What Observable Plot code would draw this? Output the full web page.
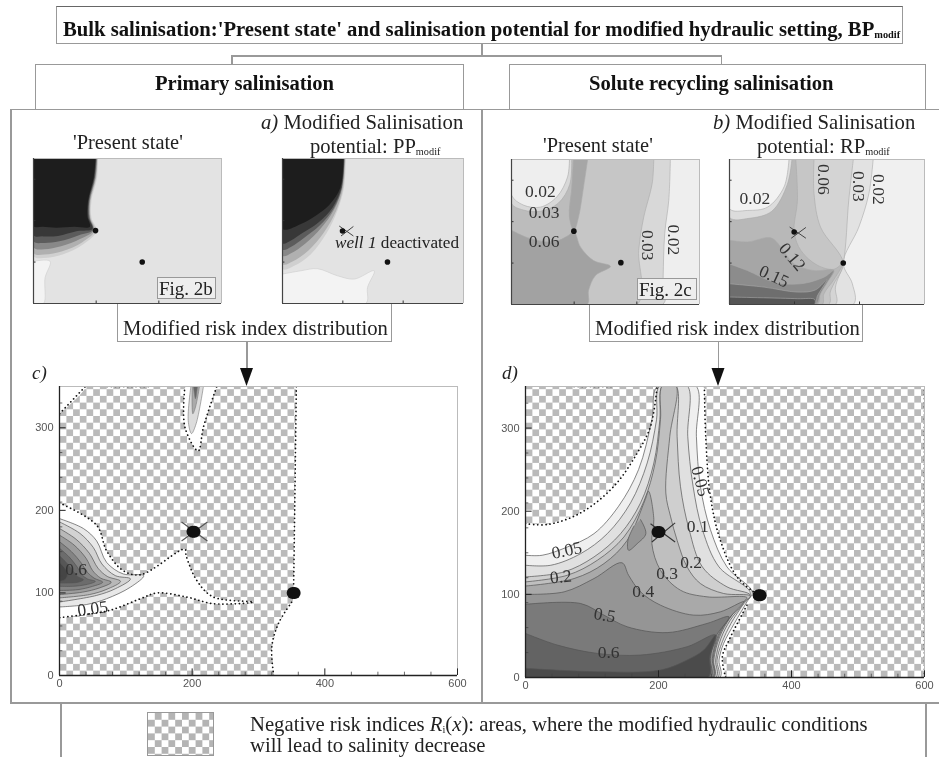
<!DOCTYPE html>
<html><head><meta charset="utf-8">
<script src="https://cdn.jsdelivr.net/npm/d3@7"></script>
<script src="https://cdn.jsdelivr.net/npm/@observablehq/plot@0.6"></script>
<style>
html,body{margin:0;padding:0;background:#fff;overflow:hidden}
#page{position:relative;width:939px;height:757px;overflow:hidden;font-family:"Liberation Serif",serif;color:#222;filter:blur(.45px)}
.b{position:absolute;box-sizing:border-box;border:1.5px solid #999}
.l{position:absolute;background:#999}
.t{position:absolute;white-space:nowrap;line-height:1}
.p{position:absolute}
sub{font-size:.5em;vertical-align:baseline;position:relative;top:.15em}
</style></head><body>
<svg width="0" height="0" style="position:absolute"><defs>
<pattern id="chk" width="13.4" height="13.4" patternUnits="userSpaceOnUse">
<rect width="13.4" height="13.4" fill="#fff"/><rect width="6.7" height="6.7" fill="#bababa"/><rect x="6.7" y="6.7" width="6.7" height="6.7" fill="#bababa"/>
</pattern></defs></svg>
<div id="page">
<div class="b" style="left:56px;top:6px;width:847px;height:38px;border-top-color:#666"></div>
<div class="t" style="left:63px;top:19px;font-size:20.7px;font-weight:bold;color:#111">Bulk salinisation:'Present state' and salinisation potential for modified hydraulic setting, BP<sub>modif</sub></div>
<div class="l" style="left:481px;top:44px;width:1.5px;height:11px"></div>
<div class="l" style="left:231px;top:55px;width:491px;height:1.5px"></div>
<div class="l" style="left:231px;top:55px;width:1.5px;height:9px"></div>
<div class="l" style="left:720.5px;top:55px;width:1.5px;height:9px"></div>
<div class="b" style="left:35px;top:64px;width:429px;height:46px"></div>
<div class="b" style="left:509px;top:64px;width:417px;height:46px"></div>
<div class="t" style="left:155px;top:73px;font-size:20.6px;font-weight:bold;color:#111">Primary salinisation</div>
<div class="t" style="left:589px;top:73px;font-size:20.6px;font-weight:bold;color:#111">Solute recycling salinisation</div>
<div class="l" style="left:10px;top:108.5px;width:929px;height:1.5px"></div>
<div class="l" style="left:10px;top:108.5px;width:1.5px;height:594px"></div>
<div class="l" style="left:481px;top:108.5px;width:1.5px;height:594px"></div>
<div class="l" style="left:10px;top:702px;width:929px;height:1.5px"></div>
<div class="l" style="left:60px;top:703px;width:1.5px;height:54px"></div>
<div class="l" style="left:925px;top:703px;width:1.5px;height:54px"></div>
<div class="b" style="left:117px;top:302px;width:275px;height:40px;border-top:none"></div>
<div class="b" style="left:589px;top:304px;width:274px;height:38px;border-top:none"></div>
<div class="l" style="left:246px;top:342px;width:1.5px;height:28px"></div>
<div class="l" style="left:717.5px;top:342px;width:1.5px;height:28px"></div>
<div class="p" id="pc" style="left:19px;top:382px"></div>
<div class="p" id="pd" style="left:485px;top:382px"></div>
<div class="p" id="p1" style="left:31px;top:156px"></div>
<div class="p" id="p2" style="left:280px;top:156px"></div>
<div class="p" id="p3" style="left:509px;top:157px"></div>
<div class="p" id="p4" style="left:727px;top:157px"></div>
<svg class="p" style="left:0;top:0" width="939" height="757"><path d="M240,368h13l-6.500,18z" fill="#111"/><path d="M711.500,368h13l-6.500,18z" fill="#111"/></svg>
<div class="t" style="left:73px;top:132px;font-size:20.4px">'Present state'</div>
<div class="t" style="left:543px;top:135px;font-size:20.4px">'Present state'</div>
<div class="t" style="left:261px;top:112px;font-size:20.7px"><i>a)</i> Modified Salinisation</div>
<div class="t" style="left:310px;top:136px;font-size:20.6px">potential: PP<sub>modif</sub></div>
<div class="t" style="left:713px;top:112px;font-size:20.7px"><i>b)</i> Modified Salinisation</div>
<div class="t" style="left:757px;top:136px;font-size:20.6px">potential: RP<sub>modif</sub></div>
<div class="t" style="left:335px;top:234px;font-size:17.2px"><i>well 1</i> deactivated</div>
<div class="b" style="left:157px;top:277px;width:59px;height:22px;background:#eee;border-width:1px"></div>
<div class="b" style="left:637px;top:278px;width:60px;height:22px;background:#eee;border-width:1px"></div>
<div class="t" style="left:159px;top:279px;font-size:19px">Fig. 2b</div>
<div class="t" style="left:639px;top:280px;font-size:19px">Fig. 2c</div>
<div class="t" style="left:123px;top:318px;font-size:20.7px">Modified risk index distribution</div>
<div class="t" style="left:595px;top:318px;font-size:20.7px">Modified risk index distribution</div>
<div class="t" style="left:32px;top:363px;font-size:19px"><i>c)</i></div>
<div class="t" style="left:502px;top:363px;font-size:19px"><i>d)</i></div>
<div class="b" style="left:147px;top:712px;width:67px;height:44px;border:1px solid #999;background:repeating-conic-gradient(#b4b4b4 0 25%,#fff 0 50%) 0 0/13.6px 13.6px"></div>
<div class="t" style="left:250px;top:714px;font-size:20.7px">Negative risk indices <i>R</i><sub>i</sub>(<i>x</i>): areas, where the modified hydraulic conditions</div>
<div class="t" style="left:250px;top:735px;font-size:20.7px">will lead to salinity decrease</div>
</div>
<script>
// ---- panel c: modified risk index, primary salinisation (x, y in model units)
const cChecker=[[0,0],[323,0],[320,34],[330,63],[352,91],[353,111],[354,168],[357,350],[0,350]];
const cHoleCorner=[[0,317],[39,350],[0,350]];
const cHoleNotch=[[189,350],[189,301],[209,272],[217,301],[237,350]];
const cHoleWedge=[[0,209],[56,182],[71,151],[96,127],[122,122],[189,153],[191,145],[207,115],[232,95],[292,89],[232,87],[192,95],[147,100],[122,93],[76,79],[30,73],[0,70]];
const cTopDots=[[72,350],[134,350]];
const cWellEdge=[[353,111],[354,168],[357,350]];
const cWellEdgeLow=[[323,0],[320,34],[330,63],[352,91]];
const cLobe=[
[[0,190],[36,178],[56,163],[71,137],[96,123],[127,121],[107,107],[71,93],[41,86],[0,83]],
[[0,186],[31,172],[51,155],[64,135],[84,121],[107,117],[84,105],[56,97],[0,89]],
[[0,178],[25,165],[45,148],[58,130],[72,120],[92,114],[70,104],[45,98],[0,94]],
[[0,170],[22,158],[40,142],[50,127],[62,118],[78,113],[60,106],[35,101],[0,98]],
[[0,162],[18,150],[33,136],[42,125],[52,118],[65,113],[50,108],[28,104],[0,103]],
[[0,154],[14,144],[27,131],[34,122],[42,117],[54,114],[40,110],[20,108],[0,108]],
[[0,145],[10,137],[20,127],[27,120],[36,116],[28,113],[12,112],[0,112]],
[[0,137],[8,130],[12,122],[8,116],[0,114]]];
const cLobeFill=["#e8e8e8","#d2d2d2","#b8b8b8","#9c9c9c","#848484","#6c6c6c","#565656","#454545"];
const cNotch=[
[[198,350],[194,309],[199,293],[206,305],[217,350]],
[[200,350],[201,317],[205,325],[211,350]],
[[202,350],[205,335],[208,350]]];
const cNotchFill=["#dcdcdc","#aaaaaa","#666666"];
const cWells=[[200.500,174],[203.500,174],[351.500,100],[354.500,100]];
const cCross=[{x1:184,y1:186,x2:223,y2:163},{x1:223,y1:186,x2:184,y2:163}];
const cLabels=[{t:"0.6",x:25,y:128,r:0},{t:"0.05",x:50,y:81,r:-8}];
// ---- panel d: modified risk index, solute recycling
const dCheckerLeft=[[0,185],[33,184],[83,198],[133,230],[168,270],[188,302],[198,350],[0,350]];
const dCheckerRight=[[269,350],[271,290],[278,218],[293,165],[318,121],[343,103],[352,99],[333,87],[306,45],[296,25],[301,0],[600,0],[600,350]];
const dBoundLeft=[[0,185],[33,184],[83,198],[133,230],[168,270],[188,302],[198,350]];
const dBoundRight=[[269,350],[271,290],[278,218],[293,165],[318,121],[343,103]];
const dBoundLow=[[333,87],[306,45],[296,25],[301,0]];
const dTopDots=[[73,350],[133,350]];
const dEdgeDots=[[600,0],[600,350]];
const dBands=[
[[0,147],[25,147],[63,157],[103,173],[140,206],[170,250],[190,310],[199,351],[256,351],[257,290],[263,230],[278,178],[303,133],[341,103],[333,91],[314,65],[298,41],[291,21],[292,0],[0,0]],
[[0,135],[38,135],[83,149],[123,173],[158,210],[183,258],[197,310],[202,351],[243,351],[244,290],[252,230],[266,178],[291,133],[338,102],[328,89],[309,65],[296,43],[288,21],[289,0],[0,0]],
[[0,121],[58,127],[103,145],[143,173],[173,210],[193,258],[202,310],[206,351],[226,351],[228,290],[233,230],[246,178],[266,133],[303,109],[338,99],[326,87],[308,69],[294,47],[286,21],[286,0],[0,0]],
[[0,115],[63,123],[108,141],[148,169],[178,212],[195,258],[203,310],[206,351],[226,351],[217,290],[211,222],[218,194],[228,165],[243,133],[263,113],[298,101],[338,98],[324,88],[307,71],[292,49],[283,21],[283,0],[0,0]],
[[0,110],[73,119],[118,137],[153,165],[180,214],[185,224],[193,190],[190,161],[203,129],[233,105],[273,97],[333,96],[323,88],[306,71],[291,50],[282,22],[282,0],[0,0]],
[[0,100],[58,103],[103,119],[145,138],[155,123],[173,103],[203,87],[253,75],[293,79],[328,91],[306,71],[290,51],[281,23],[281,0],[0,0]],
[[0,88],[83,89],[118,75],[153,61],[213,54],[273,65],[306,73],[286,49],[278,23],[278,0],[0,0]],
[[0,53],[48,39],[108,29],[173,27],[243,37],[286,51],[277,25],[275,0],[0,0]],
[[0,11],[108,7],[203,9],[243,21],[268,33],[286,51],[277,25],[274,0],[0,0]]];
const dBandFill=["#efefef","#e0e0e0","#cfcfcf","#bfbfbf","#a9a9a9","#959595","#7a7a7a","#636363","#4b4b4b"];
const dBlob=[[173,190],[181,173],[168,161],[155,153],[154,165],[163,182]];
const dWells=[[198.500,175],[201.500,175],[350.500,99],[353.500,99]];
const dCross=[{x1:188,y1:185,x2:225,y2:163},{x1:225,y1:186,x2:190,y2:163}];
const dLabels=[{t:"0.05",x:62,y:153,r:-12},{t:"0.2",x:53,y:121,r:-6},{t:"0.05",x:263,y:236,r:75},{t:"0.1",x:259,y:182,r:0},{t:"0.2",x:249,y:139,r:0},{t:"0.3",x:213,y:125,r:0},{t:"0.4",x:177,y:103,r:0},{t:"0.5",x:119,y:75,r:10},{t:"0.6",x:125,y:30,r:0}];
// ---- panel 'Present state' primary
const p1Layers=[
[[206,350],[203,304],[185,248],[185,207],[201,175],[159,143],[95,119],[32,110],[0,114],[0,350]],
[[204,350],[200,304],[182,248],[182,207],[196,176],[156,148],[92,126],[35,118],[0,122],[0,350]],
[[203,350],[198,304],[180,248],[180,207],[192,177],[150,156],[88,138],[35,131],[0,135],[0,350]],
[[201,350],[196,304],[178,248],[178,208],[190,178],[145,165],[82,150],[32,146],[0,150],[0,350]],
[[199,350],[194,304],[176,248],[175,208],[188,180],[140,175],[78,163],[30,162],[0,165],[0,350]],
[[198,350],[192,304],[174,248],[172,210],[180,185],[130,185],[72,183],[30,185],[0,187],[0,350]]];
const darkFill=["#d0d0d0","#b0b0b0","#888888","#5c5c5c","#383838","#1d1d1d"];
const p1Pale=[[0,102],[53,102],[37,62],[32,0],[0,0]];
const p1Wells=[[198,176],[347,100]];
// ---- panel PP modif
const p2Layers=[
[[210,350],[204,280],[182,224],[144,167],[94,119],[39,91],[0,83],[0,350]],
[[208,350],[201,280],[178,224],[136,170],[86,128],[35,102],[0,95],[0,350]],
[[206,350],[198,280],[172,228],[128,182],[76,145],[30,122],[0,115],[0,350]],
[[205,350],[197,280],[170,230],[123,188],[71,158],[29,137],[0,130],[0,350]],
[[204,350],[195,280],[166,232],[118,195],[66,170],[28,152],[0,145],[0,350]],
[[202,350],[192,280],[155,238],[110,212],[61,192],[0,180],[0,350]]];
const p2Pale=[[0,71],[61,79],[116,84],[182,67],[238,59],[304,79],[282,39],[276,0],[0,0]];
const p2Wells=[[199,175],[348,100]];
const p2Cross=[{x1:188,y1:187,x2:235,y2:163},{x1:235,y1:186,x2:194,y2:163}];
// ---- panel 'Present state' recycling
const p3Layers=[
[[507,350],[502,252],[489,171],[484,66],[483,0],[0,0],[0,350]],
[[454,350],[449,292],[422,211],[406,131],[401,0],[0,0],[0,350]],
[[198,350],[193,284],[185,211],[199,177],[134,151],[60,159],[0,179],[0,350]],
[[192,350],[186,290],[150,245],[92,225],[38,228],[0,244],[0,350]],
[[185,350],[179,308],[145,260],[92,235],[38,240],[0,264],[0,350]],
[[243,350],[230,284],[214,211],[199,177],[185,211],[193,284],[198,350]],
[[0,179],[60,159],[134,151],[182,167],[199,177],[220,139],[262,106],[316,92],[268,70],[246,34],[241,0],[0,0]]];
const p3Fill=["#d8d8d8","#c6c6c6","#bcbcbc","#d8d8d8","#eeeeee","#a6a6a6","#a2a2a2"];
const p3Wells=[[199,177],[349,101]];
const p3Labels=[{t:"0.02",x:92,y:274,r:0},{t:"0.03",x:104,y:222,r:0},{t:"0.06",x:104,y:153,r:0},{t:"0.03",x:433,y:143,r:90},{t:"0.02",x:516,y:156,r:90}];
// ---- panel RP modif
const p4Layers=[
[[442,350],[429,268],[398,187],[350,100],[378,50],[381,0],[0,0],[0,350]],
[[381,350],[367,252],[350,100],[326,42],[326,0],[0,0],[0,350]],
[[260,350],[260,268],[280,187],[350,100],[321,50],[310,30],[305,0],[0,0],[0,350]],
[[204,350],[209,252],[199,175],[220,130],[270,95],[321,85],[350,100],[321,60],[290,25],[285,0],[0,0],[0,350]],
[[192,350],[178,290],[130,225],[60,208],[0,210],[0,350]],
[[183,350],[168,284],[117,235],[55,227],[0,231],[0,350]],
[[0,155],[55,151],[127,161],[158,139],[199,98],[260,82],[321,82],[280,34],[270,0],[0,0]],
[[0,98],[55,82],[137,54],[219,50],[291,66],[321,82],[280,26],[265,0],[0,0]],
[[0,50],[106,42],[209,30],[264,35],[300,60],[270,20],[262,0],[0,0]],
[[0,18],[209,14],[262,12],[261,0],[0,0]]];
const p4Fill=["#e2e2e2","#d4d4d4","#c6c6c6","#b8b8b8","#dcdcdc","#f2f2f2","#a6a6a6","#8c8c8c","#6e6e6e","#555555"];
const p4Wells=[[199,175],[350,100]];
const p4Cross=[{x1:185,y1:187,x2:235,y2:160},{x1:235,y1:186,x2:190,y2:160}];
const p4Labels=[{t:"0.02",x:78,y:255,r:0},{t:"0.06",x:289,y:302,r:90},{t:"0.03",x:396,y:285,r:90},{t:"0.02",x:460,y:278,r:90},{t:"0.12",x:193,y:115,r:50},{t:"0.15",x:137,y:68,r:25}];
// ---- axes
const xTicks=[0,200,400,600], yTicks=[0,100,200,300];
const xMinor=[40,80,120,160,240,280,320,360,440,480,520,560], yMinor=[30,60,90,120,150,180,210,240,270,330];
const smallXTicks=[200,400], smallYTicks=[100,200,300];

const fx=d=>d[0], fy=d=>d[1];
const poly=(pts,fill,stroke="#666",sw=.7)=>Plot.line(pts,{x:fx,y:fy,fill,stroke,strokeWidth:sw,curve:"catmull-rom",clip:true});
const flat=(pts)=>Plot.line(pts,{x:fx,y:fy,fill:"url(#chk)",stroke:"none",curve:"linear",clip:true});
const dots=(pts)=>Plot.line(pts,{x:fx,y:fy,stroke:"#111",strokeWidth:1.7,strokeDasharray:"0.1 4",strokeLinecap:"round",curve:"catmull-rom",clip:true});
const labels=(rows,size,color="#333")=>Plot.text(rows,{text:"t",x:"x",y:"y",rotate:"r",fontSize:size,fontFamily:"Liberation Serif",fill:color});
const cross=(rows,c="#444",sw=1)=>Plot.link(rows,{x1:"x1",y1:"y1",x2:"x2",y2:"y2",stroke:c,strokeWidth:sw});
const wells=(pts,r)=>Plot.dot(pts,{x:fx,y:fy,r,fill:"#111"});

function main(id,w,ml,mr,h,marks){
  const plot=Plot.plot({width:ml+w+mr,height:4+h+28,marginLeft:ml,marginRight:mr,marginTop:4,marginBottom:28,
    x:{domain:[0,600]},y:{domain:[0,350]},
    style:{background:"none",fontFamily:"Liberation Sans",color:"#555",overflow:"visible"},
    marks:[
      Plot.axisX({ticks:xTicks,tickSize:0,tickPadding:4,fontSize:11}),
      Plot.axisY({ticks:yTicks,tickSize:0,tickPadding:6,fontSize:11}),
      ...marks,
      Plot.ruleY([350],{stroke:"#bbb"}),Plot.ruleX([600],{stroke:"#bbb"}),
      Plot.ruleX(xMinor,{y1:0,y2:4,stroke:"#444",strokeWidth:.8}),
      Plot.ruleY(yMinor,{x1:0,x2:5,stroke:"#444",strokeWidth:.8}),
      Plot.ruleX(xTicks,{y1:0,y2:8,stroke:"#222"}),
      Plot.ruleY(yTicks,{x1:0,x2:10,stroke:"#222"}),
      Plot.ruleX([0],{stroke:"#222",strokeWidth:1.3}),Plot.ruleY([0],{stroke:"#222",strokeWidth:1.3})
    ]});
  document.getElementById(id).append(plot);
}
function small(id,w,h,base,marks){
  const plot=Plot.plot({width:w+4,height:h+4,marginLeft:2,marginRight:2,marginTop:2,marginBottom:2,
    x:{domain:[0,600],axis:null},y:{domain:[0,350],axis:null},
    style:{background:"none",overflow:"visible"},
    marks:[
      Plot.frame({fill:base,stroke:"none"}),
      ...marks,
      Plot.ruleY([350],{stroke:"#bbb"}),Plot.ruleX([600],{stroke:"#bbb"}),
      Plot.ruleX(smallXTicks,{y1:0,y2:6,stroke:"#333"}),
      Plot.ruleY(smallYTicks,{x1:0,x2:8,stroke:"#333"}),
      Plot.ruleX([0],{stroke:"#444",strokeWidth:1.2}),Plot.ruleY([0],{stroke:"#444",strokeWidth:1.2})
    ]});
  document.getElementById(id).append(plot);
}
main("pc",398,40,24,289,[
  flat(cChecker),
  poly(cHoleCorner,"#fff","none"),poly(cHoleNotch,"#fff","none"),poly(cHoleWedge,"#fff","none"),
  ...cLobe.map((p,i)=>poly(p,cLobeFill[i],"#555",.7)),
  ...cNotch.map((p,i)=>poly(p,cNotchFill[i],"#777",.6)),
  dots(cHoleCorner.slice(0,2)),dots(cHoleNotch),dots(cHoleWedge),dots(cTopDots),dots(cWellEdge),dots(cWellEdgeLow),
  cross(cCross,"#555",1.2),wells(cWells,6),labels(cLabels,17.5)
]);
main("pd",399,40,15,291,[
  flat(dCheckerLeft),flat(dCheckerRight),
  ...dBands.map((p,i)=>poly(p,dBandFill[i],"#555",.7)),
  poly(dBlob,"#959595","#555",.7),
  dots(dBoundLeft),dots(dBoundRight),dots(dBoundLow),dots(dTopDots),dots(dEdgeDots),
  cross(dCross,"#333",1.1),wells(dWells,6),labels(dLabels,17.5)
]);
small("p1",188,145,"#e3e3e3",[
  poly(p1Pale,"#f3f3f3","#ccc",.6),
  ...p1Layers.map((p,i)=>poly(p,darkFill[i],"none")),
  wells(p1Wells,2.8)
]);
small("p2",181,145,"#e3e3e3",[
  poly(p2Pale,"#f3f3f3","#ccc",.6),
  ...p2Layers.map((p,i)=>poly(p,darkFill[i],"none")),
  cross(p2Cross),wells(p2Wells,2.8)
]);
small("p3",188,145,"#eeeeee",[
  ...p3Layers.map((p,i)=>poly(p,p3Fill[i],"#aaa",.6)),
  wells(p3Wells,2.8),labels(p3Labels,17.5)
]);
small("p4",195,145,"#f0f0f0",[
  ...p4Layers.map((p,i)=>poly(p,p4Fill[i],"#aaa",.6)),
  cross(p4Cross),wells(p4Wells,2.8),labels(p4Labels,17.5)
]);
</script>
</body></html>
